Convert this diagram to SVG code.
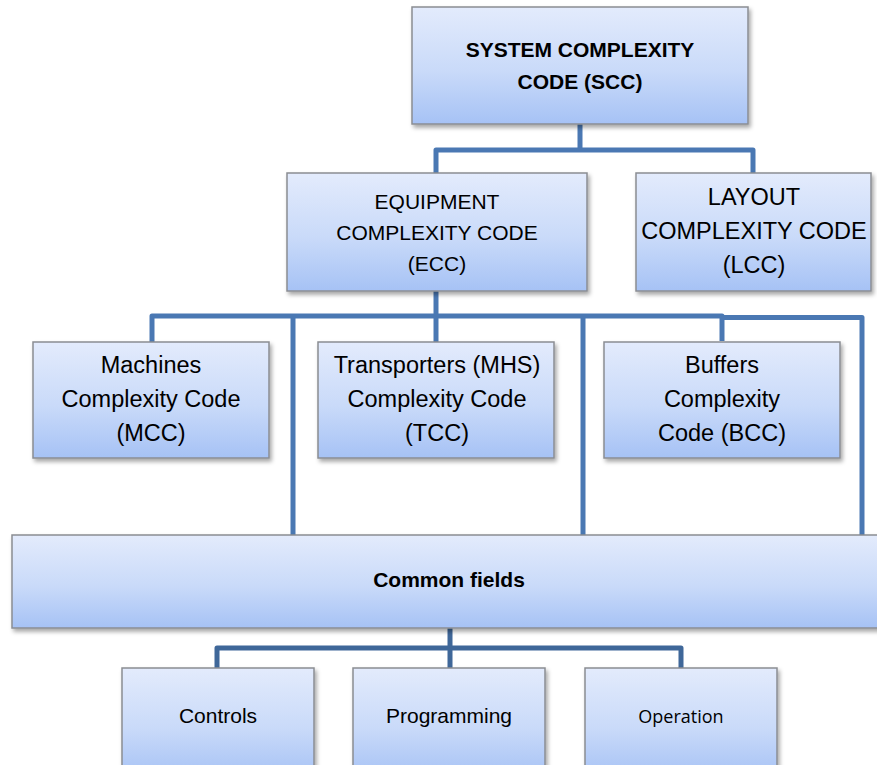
<svg xmlns="http://www.w3.org/2000/svg" width="877" height="765" viewBox="0 0 877 765">
  <defs>
    <linearGradient id="boxFill" x1="0" y1="0" x2="0" y2="1">
      <stop offset="0" stop-color="#e3ebfc"/>
      <stop offset="0.55" stop-color="#c9daf9"/>
      <stop offset="1" stop-color="#a6c2f5"/>
    </linearGradient>
    <filter id="shadow" x="-10%" y="-10%" width="125%" height="135%">
      <feDropShadow dx="2" dy="3" stdDeviation="2" flood-color="#000" flood-opacity="0.35"/>
    </filter>
    <style>
      .box { fill: url(#boxFill); stroke: #8a8d93; stroke-width: 1.5; filter: url(#shadow); }
      .lbl { font-family: "Liberation Sans", Arial, sans-serif; fill: #000; text-anchor: middle; }
      .bold { font-weight: bold; }
      .wire { fill: none; stroke: #4a78b3; stroke-width: 5; stroke-linejoin: round; }
      .wire2 { fill: none; stroke: #3f6799; stroke-width: 5; stroke-linejoin: round; }
    </style>
  </defs>

  <rect width="877" height="765" fill="#fff"/>

  <!-- tree connectors -->
  <g id="connectors">
    <path class="wire" d="M580 124 V150 M436 173 V150 H753 V173"/>
    <path class="wire" d="M436 291 V342"/>
    <path class="wire" d="M152 342 V316 H722 V341 M293 316 V535 M583 316 V535"/>
    <path class="wire" d="M722 317.5 H862 V535"/>
    <path class="wire2" d="M450 628 V668 M217 668 V648 H681 V668"/>
  </g>

  <g id="scc">
    <rect class="box" x="412" y="7" width="336" height="117"/>
    <text class="lbl bold" font-size="21" x="580" y="57">SYSTEM COMPLEXITY</text>
    <text class="lbl bold" font-size="21" x="580" y="89">CODE (SCC)</text>
  </g>

  <g id="ecc">
    <rect class="box" x="287" y="173" width="300" height="118"/>
    <text class="lbl" font-size="21" x="437" y="209">EQUIPMENT</text>
    <text class="lbl" font-size="21" x="437" y="240">COMPLEXITY CODE</text>
    <text class="lbl" font-size="21" x="437" y="271">(ECC)</text>
  </g>

  <g id="lcc">
    <rect class="box" x="636" y="173" width="235" height="118"/>
    <text class="lbl" font-size="23.5" x="754" y="205">LAYOUT</text>
    <text class="lbl" font-size="23.5" x="754" y="239">COMPLEXITY CODE</text>
    <text class="lbl" font-size="23.5" x="754" y="273">(LCC)</text>
  </g>

  <g id="mcc">
    <rect class="box" x="33" y="342" width="236" height="116"/>
    <text class="lbl" font-size="23.5" x="151" y="373">Machines</text>
    <text class="lbl" font-size="23.5" x="151" y="407">Complexity Code</text>
    <text class="lbl" font-size="23.5" x="151" y="441">(MCC)</text>
  </g>

  <g id="tcc">
    <rect class="box" x="318" y="342" width="236" height="116"/>
    <text class="lbl" font-size="23.5" x="437" y="373">Transporters (MHS)</text>
    <text class="lbl" font-size="23.5" x="437" y="407">Complexity Code</text>
    <text class="lbl" font-size="23.5" x="437" y="441">(TCC)</text>
  </g>

  <g id="bcc">
    <rect class="box" x="604" y="342" width="236" height="116"/>
    <text class="lbl" font-size="23.5" x="722" y="373">Buffers</text>
    <text class="lbl" font-size="23.5" x="722" y="407">Complexity</text>
    <text class="lbl" font-size="23.5" x="722" y="441">Code (BCC)</text>
  </g>

  <g id="common">
    <rect class="box" x="12" y="535" width="876" height="93"/>
    <text class="lbl bold" font-size="21" x="449" y="587">Common fields</text>
  </g>

  <g id="controls">
    <rect class="box" x="122" y="668" width="192" height="110"/>
    <text class="lbl" font-size="21" x="218" y="723">Controls</text>
  </g>

  <g id="programming">
    <rect class="box" x="353" y="668" width="192" height="110"/>
    <text class="lbl" font-size="21" x="449" y="723">Programming</text>
  </g>

  <g id="operation">
    <rect class="box" x="585" y="668" width="192" height="110"/>
    <text class="lbl" font-size="18" x="681" y="723" style="font-family: 'Open Sans', 'Noto Sans', sans-serif;">Operation</text>
  </g>
</svg>
